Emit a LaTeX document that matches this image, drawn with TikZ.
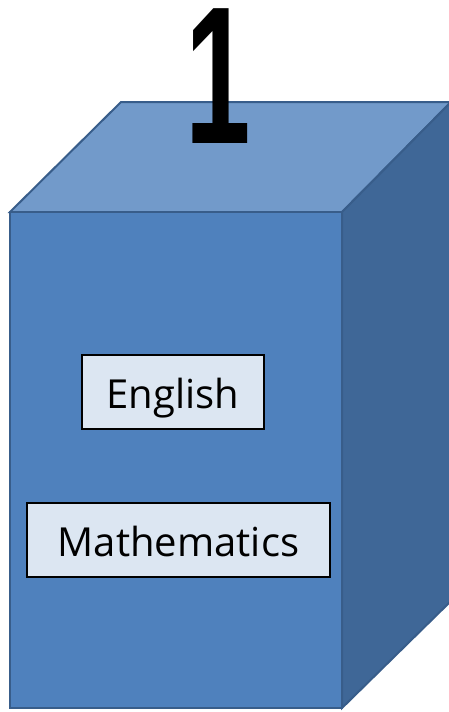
\documentclass[tikz,border=0pt]{standalone}
\usepackage{fontspec}
\setmainfont{Open Sans}
\newfontfamily\numfont{Liberation Sans}
\begin{document}
\begin{tikzpicture}[x=1pt,y=-1pt,
  face/.style={draw=edge,line width=2pt,line join=miter},
  subj/.style={draw=black,line width=2pt,fill=boxfill,inner sep=0pt,text height=32pt,text depth=0pt,font=\fontsize{40}{42}\selectfont},
  numstyle/.style={inner sep=0pt,anchor=base,font=\numfont\bfseries\fontsize{196}{200}\selectfont}]
\definecolor{edge}{HTML}{385D8A}
\definecolor{frontc}{HTML}{4F81BD}
\definecolor{topc}{HTML}{729ACA}
\definecolor{sidec}{HTML}{3F6797}
\definecolor{boxfill}{HTML}{DCE6F2}
\useasboundingbox (0,0) rectangle (449,712);
\coordinate (fl) at (10,212);
\coordinate (bl) at (121,102);
\coordinate (br) at (451,102);
\coordinate (fr) at (342,212);
\coordinate (rb) at (451,601);
\coordinate (fb) at (342,708);
\fill[topc] (fl) -- (bl) -- (br) -- (fr) -- cycle;
\draw[face] (fl) -- (bl) -- (br) -- (fr) -- cycle;
\fill[sidec] (fr) -- (br) -- (rb) -- (fb) -- cycle;
\draw[face] (fr) -- (br) -- (rb) -- (fb) -- cycle;
\fill[frontc] (fl) rectangle (fb);
\draw[face] (fl) rectangle (fb);
\node[subj,minimum width=182pt,minimum height=74pt] (eng) at (173,392) {English};
\node[subj,minimum width=303pt,minimum height=74pt] (math) at (178.5,540) {Mathematics};
\node[numstyle] (num) at (218.5,143) {\scalebox{0.6}[1]{1}};
\end{tikzpicture}
\end{document}
